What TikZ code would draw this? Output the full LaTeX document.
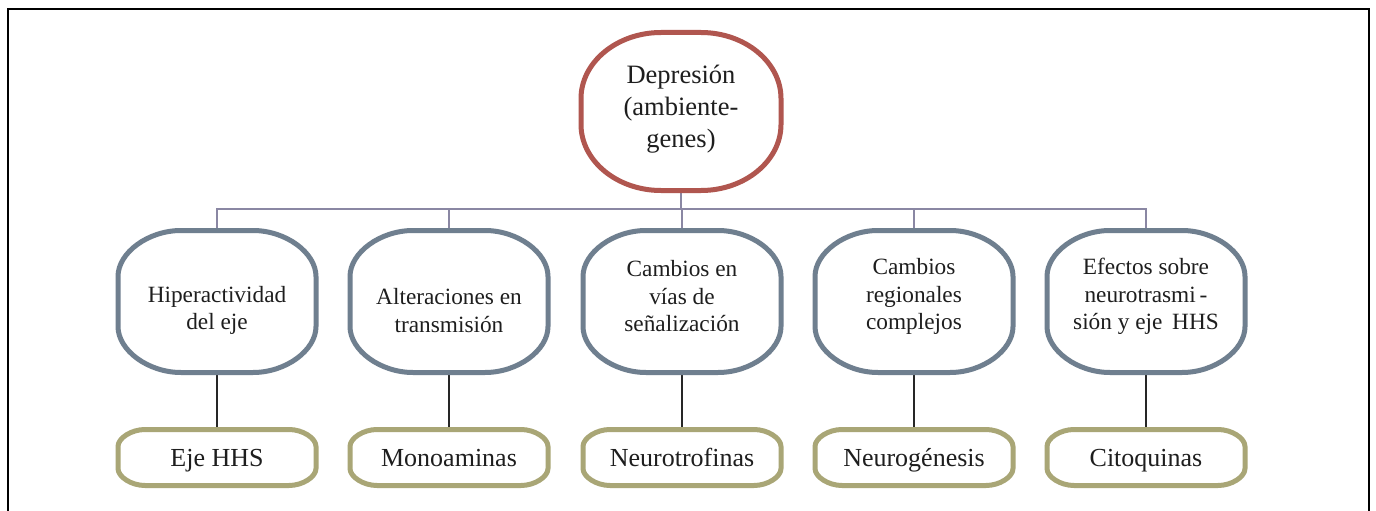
\documentclass[tikz,border=0pt]{standalone}
\usepackage{fontspec}
\setmainfont{Liberation Serif}
\usetikzlibrary{calc}
\definecolor{redc}{HTML}{B0564F}
\definecolor{bluec}{HTML}{6F7F8F}
\definecolor{olivec}{HTML}{A9A676}
\definecolor{busc}{HTML}{8A87A3}
\definecolor{txt}{HTML}{1E1E1E}
% rounded box with elliptical corners: node, rx, ry, k, style
\newcommand\ebox[5]{%
  \draw[#5]
    ($(#1.north east)+(-#2,0pt)$)
      .. controls +(#4*#2,0pt) and +(0pt,#4*#3) .. ($(#1.north east)+(0pt,-#3)$)
    -- ($(#1.south east)+(0pt,#3)$)
      .. controls +(0pt,-#4*#3) and +(#4*#2,0pt) .. ($(#1.south east)+(-#2,0pt)$)
    -- ($(#1.south west)+(#2,0pt)$)
      .. controls +(-#4*#2,0pt) and +(0pt,-#4*#3) .. ($(#1.south west)+(0pt,#3)$)
    -- ($(#1.north west)+(0pt,-#3)$)
      .. controls +(0pt,#4*#3) and +(-#4*#2,0pt) .. ($(#1.north west)+(#2,0pt)$)
    -- cycle;}
\begin{document}
\begin{tikzpicture}[x=1pt,y=-1pt,
  boxbase/.style={draw=none, rectangle, inner sep=0pt, outer sep=0pt, text=txt},
  topbox/.style={boxbase, minimum width=200pt, minimum height=158pt},
  midbox/.style={boxbase, minimum width=198pt, minimum height=142pt},
  botbox/.style={boxbase, minimum width=198pt, minimum height=56pt,
    font=\fontsize{26}{30}\selectfont, text height=20pt, text depth=2pt},
  toptext/.style={align=center, text=txt, inner sep=0pt, font=\fontsize{26.5}{32}\selectfont},
  midtext/.style={align=center, text=txt, inner sep=0pt, font=\fontsize{23.3}{27.5}\selectfont},
  redline/.style={draw=redc, line width=5pt, line join=round},
  blueline/.style={draw=bluec, line width=5pt, line join=round},
  oliveline/.style={draw=olivec, line width=5pt, line join=round},
  busline/.style={draw=busc, line width=1.8pt},
  link/.style={draw=black!85, line width=1.8pt}]
\useasboundingbox (0,0) rectangle (1376,511);
\fill[white] (0,0) rectangle (1376,511);
\draw[line width=2.5pt, black] (8,540) -- (8,9) -- (1369,9) -- (1369,540);

\coordinate (bus) at (681,209);

\node[topbox, label={[toptext, yshift=2.5pt]center:{Depresión\\(ambiente-\\genes)}}] (top) at (681,111.5) {};

\node[midbox, label={[midtext, yshift=-9pt]center:{Hiperactividad\\del eje}}] (m1) at (217,301.5) {};
\node[midbox, label={[midtext, yshift=-9pt]center:{Alteraciones en\\transmisión}}] (m2) at (449,301.5) {};
\node[midbox, label={[midtext, yshift=5pt]center:{Cambios en\\vías de\\señalización}}] (m3) at (682,301.5) {};
\node[midbox, label={[midtext, yshift=5pt]center:{Cambios\\regionales\\complejos}}] (m4) at (914,301.5) {};
\node[midbox, label={[midtext, yshift=5pt]center:{Efectos sobre\\neurotrasmi\,-\\sión y eje\, HHS}}] (m5) at (1146,301.5) {};

\node[botbox] (b1) at (217,457.5) {Eje HHS};
\node[botbox] (b2) at (449,457.5) {Monoaminas};
\node[botbox] (b3) at (682,457.5) {Neurotrofinas};
\node[botbox] (b4) at (914,457.5) {Neurogénesis};
\node[botbox] (b5) at (1146,457.5) {Citoquinas};

\draw[busline] (top.south) -- (top.south |- bus);
\draw[busline] (m1.north) -- (m1.north |- bus) -- (m5.north |- bus) -- (m5.north);
\draw[busline] (m2.north) -- (m2.north |- bus);
\draw[busline] (m3.north) -- (m3.north |- bus);
\draw[busline] (m4.north) -- (m4.north |- bus);

\draw[link] (m1.south) -- (b1.north);
\draw[link] (m2.south) -- (b2.north);
\draw[link] (m3.south) -- (b3.north);
\draw[link] (m4.south) -- (b4.north);
\draw[link] (m5.south) -- (b5.north);

\ebox{top}{80pt}{66pt}{0.55}{redline}
\ebox{m1}{63pt}{46pt}{0.52}{blueline}
\ebox{m2}{63pt}{46pt}{0.52}{blueline}
\ebox{m3}{63pt}{46pt}{0.52}{blueline}
\ebox{m4}{63pt}{46pt}{0.52}{blueline}
\ebox{m5}{63pt}{46pt}{0.52}{blueline}
\ebox{b1}{27pt}{17pt}{0.5}{oliveline}
\ebox{b2}{27pt}{17pt}{0.5}{oliveline}
\ebox{b3}{27pt}{17pt}{0.5}{oliveline}
\ebox{b4}{27pt}{17pt}{0.5}{oliveline}
\ebox{b5}{27pt}{17pt}{0.5}{oliveline}
\end{tikzpicture}
\end{document}
